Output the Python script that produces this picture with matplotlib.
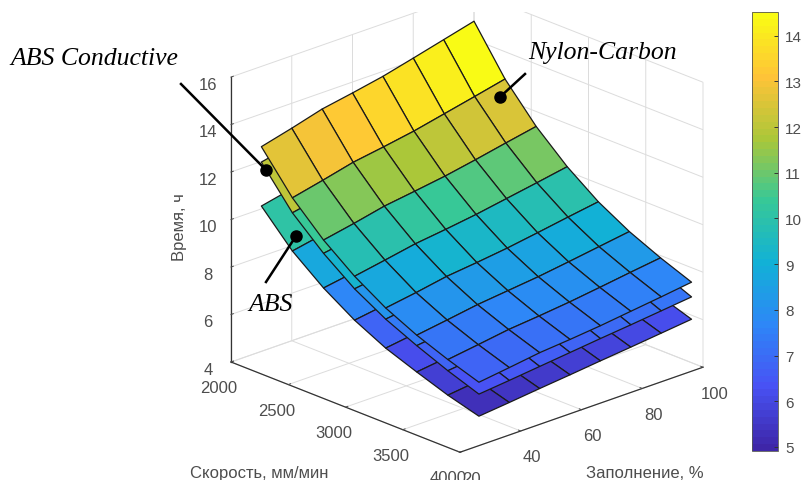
import matplotlib
matplotlib.use("Agg")
import matplotlib.pyplot as plt
import numpy as np
from matplotlib.colors import LinearSegmentedColormap, Normalize
from matplotlib.cm import ScalarMappable
from matplotlib.patches import Rectangle, Circle
from matplotlib.lines import Line2D
from mpl_toolkits.mplot3d import proj3d

speed = [2000, 2271, 2543, 2814, 3086, 3357, 3629, 3900]
fill = [30, 40, 50, 60, 70, 80, 90, 100]

# rows = speed, columns = fill, hours
nylon_carbon = [
    [12.62, 12.95, 13.31, 13.54, 13.79, 14.11, 14.44, 14.77],
    [10.98, 11.27, 11.58, 11.78, 12.00, 12.28, 12.56, 12.85],
    [9.72, 9.97, 10.25, 10.43, 10.62, 10.86, 11.12, 11.37],
    [8.71, 8.94, 9.18, 9.34, 9.52, 9.74, 9.96, 10.19],
    [7.89, 8.09, 8.32, 8.46, 8.62, 8.82, 9.03, 9.23],
    [7.26, 7.45, 7.65, 7.79, 7.93, 8.11, 8.30, 8.49],
    [6.75, 6.93, 7.12, 7.24, 7.38, 7.55, 7.73, 7.90],
    [6.31, 6.48, 6.66, 6.77, 6.90, 7.06, 7.22, 7.39],
]
abs_conductive = [
    [11.97, 12.25, 12.54, 12.82, 13.11, 13.39, 13.67, 13.95],
    [10.35, 10.60, 10.85, 11.09, 11.34, 11.58, 11.82, 12.07],
    [9.16, 9.37, 9.59, 9.81, 10.03, 10.24, 10.46, 10.67],
    [8.18, 8.37, 8.56, 8.76, 8.95, 9.15, 9.34, 9.53],
    [7.42, 7.60, 7.77, 7.95, 8.13, 8.30, 8.48, 8.65],
    [6.82, 6.98, 7.15, 7.31, 7.47, 7.63, 7.79, 7.95],
    [6.28, 6.43, 6.58, 6.73, 6.88, 7.03, 7.18, 7.32],
    [5.81, 5.94, 6.08, 6.22, 6.36, 6.49, 6.63, 6.77],
]
abs_plain = [
    [10.12, 10.40, 10.68, 10.95, 11.25, 11.52, 11.80, 12.09],
    [8.74, 8.99, 9.23, 9.46, 9.72, 9.95, 10.20, 10.45],
    [7.70, 7.91, 8.13, 8.33, 8.56, 8.77, 8.98, 9.20],
    [6.86, 7.05, 7.24, 7.42, 7.63, 7.81, 8.00, 8.20],
    [6.20, 6.38, 6.55, 6.71, 6.90, 7.06, 7.23, 7.41],
    [5.71, 5.87, 6.02, 6.18, 6.35, 6.50, 6.66, 6.82],
    [5.25, 5.40, 5.54, 5.68, 5.84, 5.98, 6.12, 6.27],
    [4.88, 5.01, 5.15, 5.28, 5.42, 5.55, 5.69, 5.83],
]

speed_ticks = [2000, 2500, 3000, 3500, 4000]
fill_ticks = [20, 40, 60, 80, 100]
time_ticks = [4, 6, 8, 10, 12, 14, 16]
cbar_ticks = [5, 6, 7, 8, 9, 10, 11, 12, 13, 14]

W, H = 804, 481
GRAY = "#4d4d4d"
plt.rcParams["font.family"] = ["Liberation Sans", "DejaVu Sans"]

parula = LinearSegmentedColormap.from_list("parula", [
    (0.2422, 0.1504, 0.6603), (0.2810, 0.3228, 0.9579), (0.1786, 0.5289, 0.9682),
    (0.0689, 0.6948, 0.8394), (0.2161, 0.7843, 0.5923), (0.6720, 0.7793, 0.2227),
    (0.9970, 0.7659, 0.2199), (0.9769, 0.9839, 0.0805)], N=64)
norm = Normalize(4.91, 14.52)

fig = plt.figure(figsize=(W / 100, H / 100), dpi=100)
ax = fig.add_subplot(projection="3d", proj_type="ortho", computed_zorder=False)
ax.patch.set_alpha(0)
ax.view_init(elev=21.8, azim=-43.3)
ax.set_box_aspect((334, 334, 307))
ax.set_xlim(2000, 4000, view_margin=0)
ax.set_ylim(20, 100, view_margin=0)
ax.set_zlim(4, 16, view_margin=0)

X, Y = np.meshgrid(speed, fill, indexing="ij")
for z, data in enumerate([abs_plain, abs_conductive, nylon_carbon]):
    Z = np.array(data)
    ax.plot_surface(X, Y, Z, facecolors=parula(norm(Z)), shade=False, rstride=1, cstride=1,
                    edgecolor="#1a1a1a", linewidth=0.9, zorder=z + 2, antialiased=True)

ax.set_xticks(speed_ticks)
ax.set_yticks(fill_ticks)
ax.set_zticks(time_ticks)
ax.tick_params(labelsize=12, labelcolor=GRAY, colors=GRAY, pad=2)
for axis in (ax.xaxis, ax.yaxis, ax.zaxis):
    axis.set_pane_color((1, 1, 1, 0))
    axis.pane.set_edgecolor("none")
    axis.line.set_color("#333333")
    axis.line.set_linewidth(0.9)
    axis._axinfo["grid"].update(color="#dcdcdc", linewidth=0.7)
    axis._axinfo["tick"].update(inward_factor=0.0, outward_factor=0.12, linewidth={True: 0.7, False: 0.5})
ax.zaxis.set_ticks_position("lower")


def project(x, y, z):
    ax.apply_aspect()
    ax.M = ax.get_proj()
    px, py, _ = proj3d.proj_transform(x, y, z, ax.M)
    return ax.transData.transform((px, py))


# size and shift the 3D box so its floor corners land where the original has them
side = 560
ax.set_position([0.1, 0.1, side / W, side / H])
span = project(4000, 100, 4)[0] - project(2000, 20, 4)[0]
side = side * 472 / span
ax.set_position([0.1, 0.1, side / W, side / H])
corner = project(2000, 20, 4)
ax.set_position([0.1 + (231 - corner[0]) / W, 0.1 + (H - 363 - corner[1]) / H, side / W, side / H])


def fx(px):
    return px / W


def fy(py):
    return 1 - py / H


# the original is cropped just above the top of the box
fig.add_artist(Rectangle((0, fy(13)), fx(700), 13 / H, transform=fig.transFigure,
                         facecolor="white", edgecolor="none", zorder=1))

fig.text(fx(180), fy(227), "Время, ч", rotation=90, ha="center", va="center", fontsize=12, color=GRAY)
fig.text(fx(259), fy(474), "Скорость, мм/мин", ha="center", va="center", fontsize=12, color=GRAY)
fig.text(fx(645), fy(474), "Заполнение, %", ha="center", va="center", fontsize=12, color=GRAY)

cax = fig.add_axes([fx(752), fy(452), 26 / W, 439 / H])
cb = fig.colorbar(ScalarMappable(norm=norm, cmap=parula), cax=cax, ticks=cbar_ticks)
cb.ax.tick_params(direction="in", length=3, width=0.7, labelsize=11, labelcolor=GRAY, color="#333333", pad=5)
cb.outline.set_edgecolor("#555555")
cb.outline.set_linewidth(0.6)

# callouts
serif = dict(family="Liberation Serif", style="italic", fontsize=18.5, color="black", va="center")
fig.text(fx(10), fy(59), "ABS Conductive", ha="left", **serif)
fig.text(fx(528), fy(53), "Nylon-Carbon", ha="left", **serif)
fig.text(fx(248), fy(305), "ABS", ha="left", **serif)
for (x0, y0, x1, y1) in [(181, 85, 266, 171), (525, 75, 500, 98), (266, 283, 296, 237)]:
    fig.add_artist(Line2D([fx(x0), fx(x1)], [fy(y0), fy(y1)], color="black", lw=1.8, transform=fig.transFigure))
    fig.add_artist(Line2D([fx(x1)], [fy(y1)], marker="o", ms=8, color="black", transform=fig.transFigure))

fig.savefig("out.png", dpi=100)
